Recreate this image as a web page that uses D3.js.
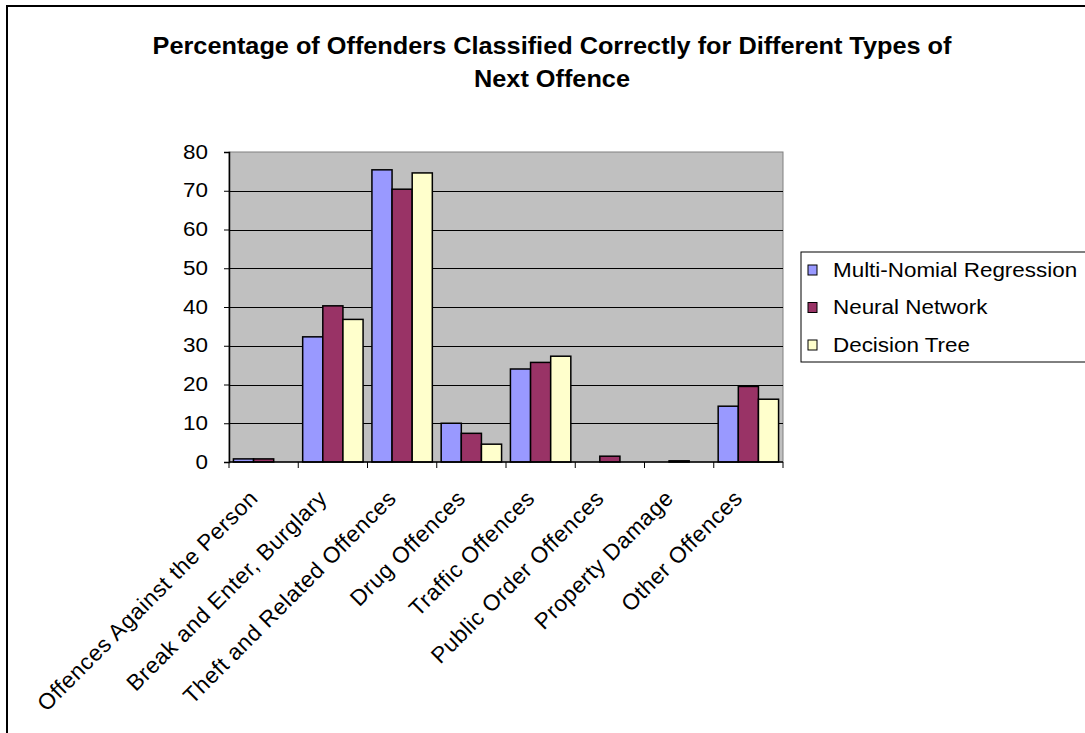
<!DOCTYPE html>
<html>
<head>
<meta charset="utf-8">
<script src="https://cdn.jsdelivr.net/npm/d3@7"></script>
<style>
  html, body { margin: 0; padding: 0; background: #fff; }
  svg { display: block; font-family: "Liberation Sans", Arial, sans-serif; }
</style>
</head>
<body>
<svg id="chart" width="1085" height="733"></svg>
<script>
// Offence categories along the x axis
const categories = [
  "Offences Against the Person",
  "Break and Enter, Burglary",
  "Theft and Related Offences",
  "Drug Offences",
  "Traffic Offences",
  "Public Order Offences",
  "Property Damage",
  "Other Offences"
];

// Percentage classified correctly, one array per model
const multiNomial   = [0.8, 32.3, 75.4, 10.0, 24.0, 0.0, 0.0, 14.4];
const neuralNetwork = [0.8, 40.3, 70.4, 7.4, 25.7, 1.5, 0.3, 19.5];
const decisionTree  = [0.0, 36.8, 74.6, 4.6, 27.3, 0.0, 0.0, 16.2];

const seriesNames = ["Multi-Nomial Regression", "Neural Network", "Decision Tree"];
const seriesColors = ["#9999FF", "#993366", "#FFFFCC"];
const yTicks = [0, 10, 20, 30, 40, 50, 60, 70, 80];

const series = [multiNomial, neuralNetwork, decisionTree];

// Horizontal text is drawn slightly wide
const SX = 1.15;

const svg = d3.select("#chart");

// Outer chart frame
svg.append("rect")
  .attr("x", 7).attr("y", 6)
  .attr("width", 1100).attr("height", 760)
  .attr("fill", "#fff").attr("stroke", "#000").attr("stroke-width", 2);

// Title
const titleLines = [
  "Percentage of Offenders Classified Correctly for Different Types of",
  "Next Offence"
];
svg.append("g")
  .selectAll("text")
  .data(titleLines)
  .join("text")
  .attr("transform", (d, i) => `translate(552,${54 + i * 33}) scale(1.1,1)`)
  .attr("text-anchor", "middle")
  .attr("font-weight", "bold")
  .attr("font-size", 23)
  .text(d => d);

const plot = { left: 229, right: 783, top: 152, bottom: 462 };

const x = d3.scaleBand()
  .domain(categories)
  .range([plot.left, plot.right])
  .paddingInner(0).paddingOuter(0);

const xInner = d3.scaleBand()
  .domain(d3.range(series.length))
  .range([0, x.bandwidth()])
  .paddingOuter(0.22).paddingInner(0);

const y = d3.scaleLinear()
  .domain([0, 80])
  .range([plot.bottom, plot.top]);

// Plot area background
svg.append("rect")
  .attr("x", plot.left).attr("y", plot.top)
  .attr("width", plot.right - plot.left).attr("height", plot.bottom - plot.top)
  .attr("fill", "#C0C0C0").attr("stroke", "#808080").attr("stroke-width", 1);

// Horizontal gridlines
svg.append("g")
  .selectAll("line")
  .data(yTicks.filter(d => d > 0 && d < 80))
  .join("line")
  .attr("x1", plot.left).attr("x2", plot.right)
  .attr("y1", d => Math.round(y(d)) + 0.5).attr("y2", d => Math.round(y(d)) + 0.5)
  .attr("stroke", "#000").attr("stroke-width", 1);

// Bars
const groups = svg.append("g")
  .selectAll("g")
  .data(categories)
  .join("g")
  .attr("transform", d => `translate(${x(d)},0)`);

groups.selectAll("rect")
  .data((d, i) => series.map((s, k) => ({ k, v: s[i] })).filter(e => e.v > 0))
  .join("rect")
  .attr("x", d => xInner(d.k))
  .attr("width", xInner.bandwidth())
  .attr("y", d => y(d.v))
  .attr("height", d => y(0) - y(d.v))
  .attr("fill", d => seriesColors[d.k])
  .attr("stroke", "#000").attr("stroke-width", 1.5);

// Y axis
const yAxis = d3.axisLeft(y).tickValues(yTicks).tickSize(5).tickPadding(16);
const gy = svg.append("g")
  .attr("transform", `translate(${plot.left},0)`)
  .call(yAxis);
gy.select(".domain").attr("stroke", "#000").attr("stroke-width", 1.5);
gy.selectAll(".tick line").attr("stroke", "#000");
gy.selectAll(".tick text")
  .attr("font-size", 19.5).attr("font-family", "Liberation Sans, Arial, sans-serif")
  .attr("fill", "#000")
  .attr("x", 0)
  .attr("transform", `translate(-21,0) scale(${SX},1)`);

// X axis with ticks at category boundaries
const gx = svg.append("g").attr("transform", `translate(0,${plot.bottom})`);
gx.append("line")
  .attr("x1", plot.left).attr("x2", plot.right)
  .attr("y1", 0).attr("y2", 0)
  .attr("stroke", "#000").attr("stroke-width", 1.5);
gx.selectAll("line.tk")
  .data(categories.map(c => x(c)).concat([plot.right]))
  .join("line")
  .attr("class", "tk")
  .attr("x1", d => d).attr("x2", d => d)
  .attr("y1", 0).attr("y2", 6)
  .attr("stroke", "#000");

// Rotated category labels
gx.selectAll("text")
  .data(categories)
  .join("text")
  .attr("text-anchor", "end")
  .attr("font-size", 22.5)
  .attr("letter-spacing", 0.6)
  .attr("transform", d => `translate(${x(d) + x.bandwidth() / 2 - 10},${32}) rotate(-45)`)
  .attr("dy", "0.35em")
  .text(d => d);

// Legend
const legend = svg.append("g");
legend.append("rect")
  .attr("x", 801).attr("y", 252)
  .attr("width", 320).attr("height", 110)
  .attr("fill", "#fff").attr("stroke", "#000").attr("stroke-width", 1);
const items = legend.selectAll("g")
  .data(seriesNames)
  .join("g")
  .attr("transform", (d, i) => `translate(808,${270 + i * 37.5})`);
items.append("rect")
  .attr("x", 0).attr("y", -5)
  .attr("width", 9).attr("height", 10)
  .attr("fill", (d, i) => seriesColors[i])
  .attr("stroke", "#000").attr("stroke-width", 1);
items.append("text")
  .attr("transform", `translate(25,0) scale(${SX},1)`)
  .attr("dy", "0.35em")
  .attr("font-size", 19.5)
  .text(d => d);
</script>
</body>
</html>
